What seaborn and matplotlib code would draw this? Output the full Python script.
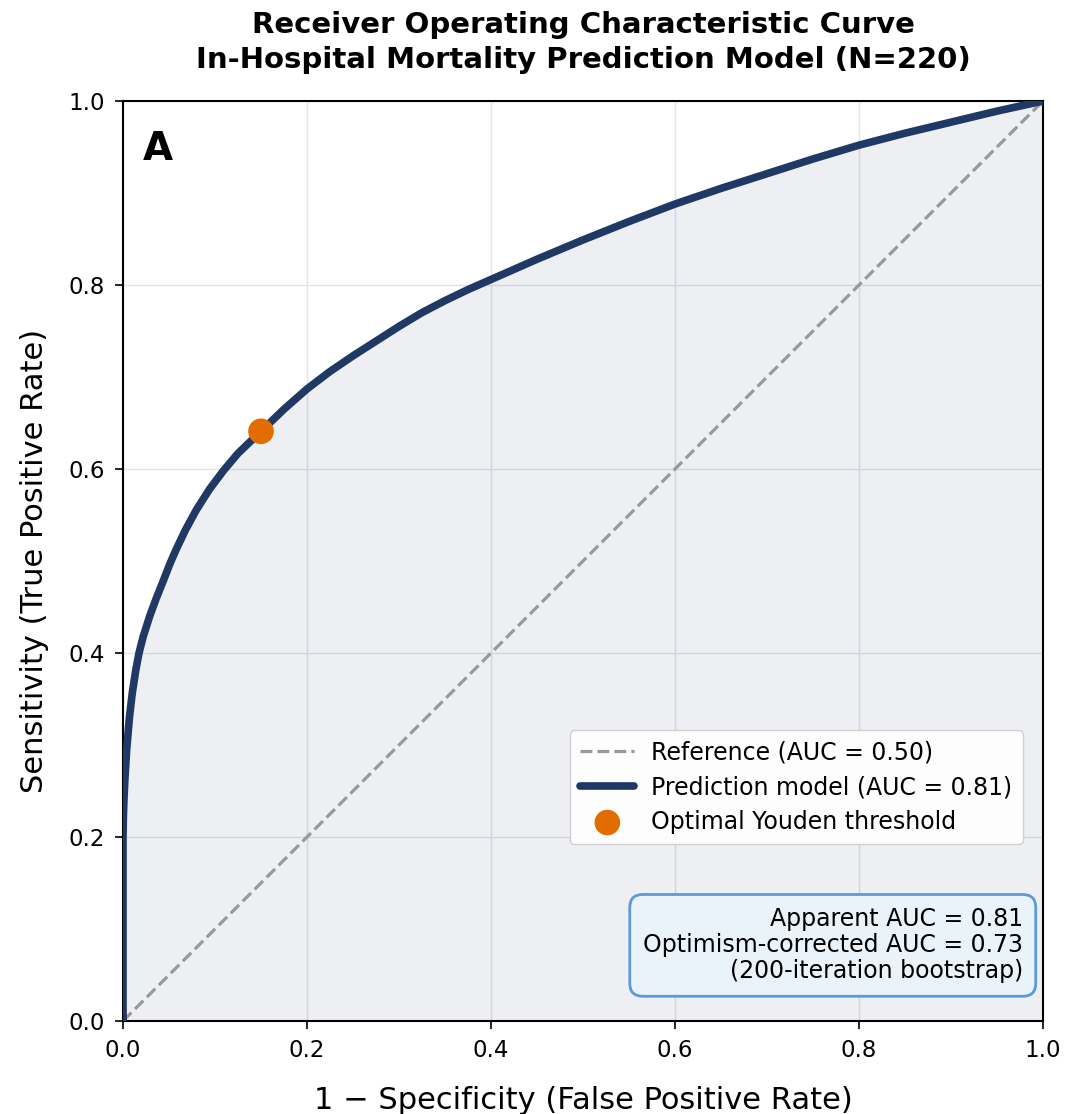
import numpy as np
import pandas as pd
import matplotlib
matplotlib.use("Agg")
import matplotlib.pyplot as plt
import seaborn as sns

# ---- data ----
fpr = [0.0, 0.0, 0.0, 0.0005, 0.001, 0.002, 0.004, 0.007, 0.010, 0.014, 0.0174,
       0.022, 0.029, 0.036, 0.044, 0.051, 0.058, 0.068, 0.080, 0.094, 0.109,
       0.125, 0.150, 0.175, 0.200, 0.225, 0.250, 0.275, 0.300, 0.325, 0.350,
       0.375, 0.400, 0.450, 0.500, 0.550, 0.600, 0.650, 0.700, 0.750, 0.800,
       0.850, 0.900, 0.950, 1.000]
tpr = [0.0, 0.12, 0.20, 0.225, 0.240, 0.262, 0.295, 0.330, 0.356, 0.382, 0.400,
       0.418, 0.440, 0.459, 0.479, 0.497, 0.513, 0.534, 0.556, 0.578, 0.598,
       0.617, 0.641, 0.665, 0.687, 0.706, 0.723, 0.739, 0.755, 0.770, 0.783,
       0.795, 0.806, 0.828, 0.849, 0.869, 0.888, 0.905, 0.921, 0.937, 0.952,
       0.965, 0.977, 0.989, 1.000]
ref_x = [0.0, 1.0]
ref_y = [0.0, 1.0]
youden_fpr = [0.150]
youden_tpr = [0.641]

apparent_auc = 0.81
corrected_auc = 0.73
n_boot = 200
n_patients = 220

roc_df = pd.DataFrame({"fpr": fpr, "tpr": tpr})
ref_df = pd.DataFrame({"x": ref_x, "y": ref_y})
you_df = pd.DataFrame({"fpr": youden_fpr, "tpr": youden_tpr})

NAVY = "#1f3864"
ORANGE = "#e36c00"

sns.set_style("whitegrid", {"axes.edgecolor": "black", "grid.color": "#e3e3e6",
                            "xtick.bottom": True, "ytick.left": True,
                            "text.color": "black", "axes.labelcolor": "black",
                            "xtick.color": "black", "ytick.color": "black"})
plt.rcParams["font.family"] = ["DejaVu Sans"]

fig, ax = plt.subplots(figsize=(10.66, 11.14), dpi=100)
fig.subplots_adjust(left=123/1066, right=1043/1066, top=1-101/1114, bottom=1-1021/1114)

ax.fill_between(roc_df["fpr"], roc_df["tpr"], 0, color=NAVY, alpha=0.08, lw=0, zorder=1)
sns.lineplot(data=ref_df, x="x", y="y", ax=ax, color="#999999", lw=2.3, linestyle="--",
             label="Reference (AUC = 0.50)", zorder=2, estimator=None)
sns.lineplot(data=roc_df, x="fpr", y="tpr", ax=ax, color=NAVY, lw=5.5, sort=False,
             estimator=None, label=f"Prediction model (AUC = {apparent_auc:.2f})",
             zorder=3)
sns.scatterplot(data=you_df, x="fpr", y="tpr", ax=ax, color=ORANGE, s=340,
                edgecolor="none", label="Optimal Youden threshold", zorder=4)

ax.set_xlim(0, 1)
ax.set_ylim(0, 1)
ax.set_xticks(np.arange(0, 1.01, 0.2))
ax.set_yticks(np.arange(0, 1.01, 0.2))
ax.tick_params(axis="both", labelsize=16.5, length=6, width=1.2, color="black", pad=7)
for sp in ax.spines.values():
    sp.set_color("black")
    sp.set_linewidth(1.5)
ax.grid(True, color="#e3e3e6", lw=1)
ax.set_axisbelow(True)

ax.set_xlabel("1 \u2212 Specificity (False Positive Rate)", fontsize=22, labelpad=17)
ax.set_ylabel("Sensitivity (True Positive Rate)", fontsize=22, labelpad=14)
ax.set_title("Receiver Operating Characteristic Curve\n"
             f"In-Hospital Mortality Prediction Model (N={n_patients})",
             fontsize=21, fontweight="bold", pad=24, linespacing=1.3, color="black")

ax.text(0.021, 0.968, "A", transform=ax.transAxes, fontsize=28, fontweight="bold",
        va="top", ha="left")

leg = ax.legend(loc="lower right", bbox_to_anchor=(0.978, 0.192), borderaxespad=0,
                fontsize=17, frameon=True, fancybox=True, framealpha=0.92,
                edgecolor="#cccccc", handlelength=2.3, borderpad=0.45,
                labelspacing=0.45, handletextpad=0.7)
for h in leg.legend_handles:
    if hasattr(h, "set_sizes"):
        h.set_sizes([340])

ax.text(0.978, 0.041,
        f"Apparent AUC = {apparent_auc:.2f}\n"
        f"Optimism-corrected AUC = {corrected_auc:.2f}\n"
        f"({n_boot}-iteration bootstrap)",
        transform=ax.transAxes, ha="right", va="bottom", fontsize=17,
        multialignment="right", zorder=6, linespacing=1.1,
        bbox=dict(boxstyle="round,pad=0.55", facecolor="#eaf2fa",
                  edgecolor="#5b9bd5", lw=2))

fig.savefig("out.png", dpi=100)
